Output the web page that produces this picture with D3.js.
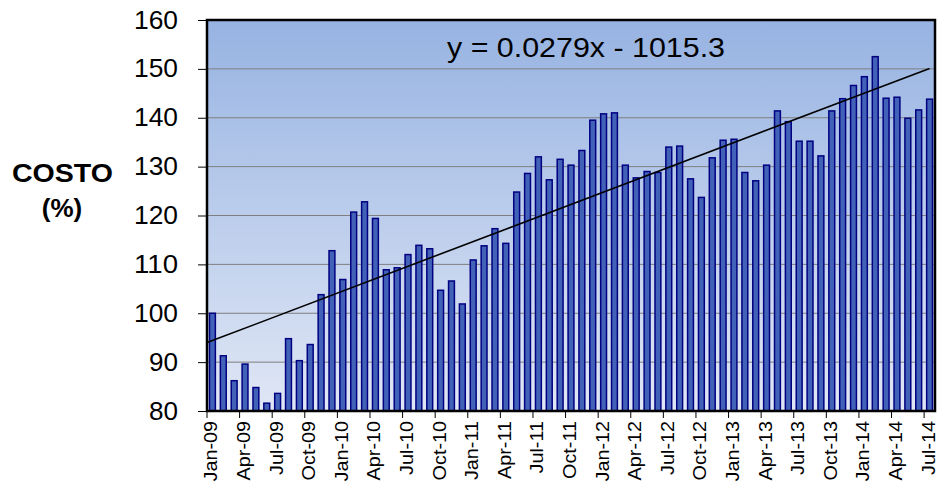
<html>
<head>
    <title>Costo</title>
    <script src="https://d3js.org/d3.v7.min.js"></script>
    <style>
        body { margin: 0; background: #fff; }
        text { font-family: Arial, "Liberation Sans", sans-serif; }
    </style>
</head>
<body>
    <svg id="chart" width="938" height="486"></svg>

    <script>
    // monthly categories Jan-09 .. Jul-14
    const months = [
        "Jan-09","Feb-09","Mar-09","Apr-09","May-09","Jun-09","Jul-09","Aug-09","Sep-09","Oct-09","Nov-09","Dec-09",
        "Jan-10","Feb-10","Mar-10","Apr-10","May-10","Jun-10","Jul-10","Aug-10","Sep-10","Oct-10","Nov-10","Dec-10",
        "Jan-11","Feb-11","Mar-11","Apr-11","May-11","Jun-11","Jul-11","Aug-11","Sep-11","Oct-11","Nov-11","Dec-11",
        "Jan-12","Feb-12","Mar-12","Apr-12","May-12","Jun-12","Jul-12","Aug-12","Sep-12","Oct-12","Nov-12","Dec-12",
        "Jan-13","Feb-13","Mar-13","Apr-13","May-13","Jun-13","Jul-13","Aug-13","Sep-13","Oct-13","Nov-13","Dec-13",
        "Jan-14","Feb-14","Mar-14","Apr-14","May-14","Jun-14","Jul-14"
    ];
    const costo = [
        100.0, 91.3, 86.2, 89.6, 84.8, 81.6, 83.6, 94.8, 90.3, 93.6, 103.8, 112.8,
        106.9, 120.7, 122.8, 119.4, 108.9, 109.3, 112.0, 113.9, 113.2, 104.7, 106.6, 101.9,
        110.9, 113.8, 117.3, 114.3, 124.8, 128.6, 132.0, 127.3, 131.5, 130.3, 133.3, 139.5,
        140.8, 141.0, 130.3, 127.7, 129.0, 128.8, 134.0, 134.2, 127.5, 123.7, 131.8, 135.4,
        135.6, 128.8, 127.1, 130.3, 141.4, 139.2, 135.2, 135.2, 132.2, 141.4, 143.9, 146.6,
        148.4, 152.5, 144.0, 144.2, 139.9, 141.6, 143.8
    ];
    // linear trend line, read at its two ends (month index, value)
    const trendIdx = [-0.5, 66];
    const trendVal = [94.0, 150.1];
    const yTicks = [80, 90, 100, 110, 120, 130, 140, 150, 160];
    const equation = "y = 0.0279x - 1015.3";

    const svg = d3.select('#chart');
    const margin = { left: 207, top: 20, right: 3, bottom: 75 };
    const width = 938 - margin.left - margin.right;
    const height = 486 - margin.top - margin.bottom;

    const defs = svg.append('defs');
    const grad = defs.append('linearGradient')
        .attr('id', 'bg').attr('x1', 0).attr('y1', 0).attr('x2', 0).attr('y2', 1);
    grad.append('stop').attr('offset', '0%').attr('stop-color', '#97b3e2');
    grad.append('stop').attr('offset', '100%').attr('stop-color', '#e0e7f5');

    const g = svg.append('g').attr('transform', `translate(${margin.left},${margin.top})`);

    const x = d3.scaleBand().domain(months).range([0, width]).paddingInner(0.46).paddingOuter(0.23);
    const xi = d3.scaleLinear().domain([-0.5, months.length - 0.5]).range([0, width]);
    const y = d3.scaleLinear().domain([80, 160]).range([height, 0]);

    g.append('rect').attr('width', width).attr('height', height).attr('fill', 'url(#bg)');

    // gridlines
    g.selectAll('.grid').data(yTicks.slice(1, -1)).enter().append('line')
        .attr('x1', 0).attr('x2', width)
        .attr('y1', d => y(d)).attr('y2', d => y(d))
        .attr('stroke', '#7f7f7f').attr('stroke-width', 1);

    // bars
    g.selectAll('.bar').data(costo).enter().append('rect')
        .attr('x', (d, i) => x(months[i]))
        .attr('y', d => y(d))
        .attr('width', x.bandwidth())
        .attr('height', d => height - y(d))
        .attr('fill', '#4262b8')
        .attr('stroke', '#000080')
        .attr('stroke-width', 1.5);

    // trend line
    const line = d3.line().x(d => xi(d[0])).y(d => y(d[1]));
    g.append('path')
        .datum(trendIdx.map((d, i) => [d, trendVal[i]]))
        .attr('d', line)
        .attr('fill', 'none').attr('stroke', '#000').attr('stroke-width', 1.6);

    g.append('text')
        .attr('x', 240).attr('y', 37)
        .attr('font-size', 28)
        .attr('textLength', 278).attr('lengthAdjust', 'spacingAndGlyphs')
        .attr('fill', '#000')
        .text(equation);

    // frame
    g.append('rect').attr('width', width).attr('height', height)
        .attr('fill', 'none').attr('stroke', '#000').attr('stroke-width', 2.5);

    // y axis
    const yAxis = g.append('g').call(d3.axisLeft(y).tickValues(yTicks).tickSize(9).tickPadding(20));
    yAxis.select('.domain').remove();
    yAxis.selectAll('line').attr('stroke', '#000').attr('stroke-width', 1);
    yAxis.selectAll('text').attr('font-size', 25).attr('fill', '#000')
        .attr('textLength', 44).attr('lengthAdjust', 'spacingAndGlyphs')
        .attr('font-family', 'Arial, "Liberation Sans", sans-serif');
    yAxis.selectAll('text').filter(d => d < 100).attr('textLength', 29);

    // x axis: tick marks between categories, labels every 3 months
    const tickMonths = months.filter((d, i) => i % 3 === 0);
    const xAxis = g.append('g').attr('transform', `translate(0,${height})`);
    xAxis.selectAll('line').data(tickMonths.concat(['end'])).enter().append('line')
        .attr('x1', (d, i) => xi(i * 3 - 0.5)).attr('x2', (d, i) => xi(i * 3 - 0.5))
        .attr('y1', 0).attr('y2', 7)
        .attr('stroke', '#000');
    xAxis.selectAll('text').data(tickMonths).enter().append('text')
        .attr('transform', d => `translate(${x(d) + x.bandwidth() / 2 + 5},10) rotate(-90) scale(1.1,1)`)
        .attr('text-anchor', 'end')
        .attr('font-size', 18)
        .attr('fill', '#000')
        .text(d => d);

    // y title
    const title = svg.append('text')
        .attr('x', 62).attr('y', 182)
        .attr('text-anchor', 'middle')
        .attr('font-size', 26).attr('font-weight', 'bold').attr('fill', '#000');
    title.append('tspan').attr('x', 12).attr('dy', 0).attr('text-anchor', 'start')
        .attr('textLength', 101).attr('lengthAdjust', 'spacingAndGlyphs').text('COSTO');
    title.append('tspan').attr('x', 62).attr('dy', 35).text('(%)');
    </script>
</body>
</html>
